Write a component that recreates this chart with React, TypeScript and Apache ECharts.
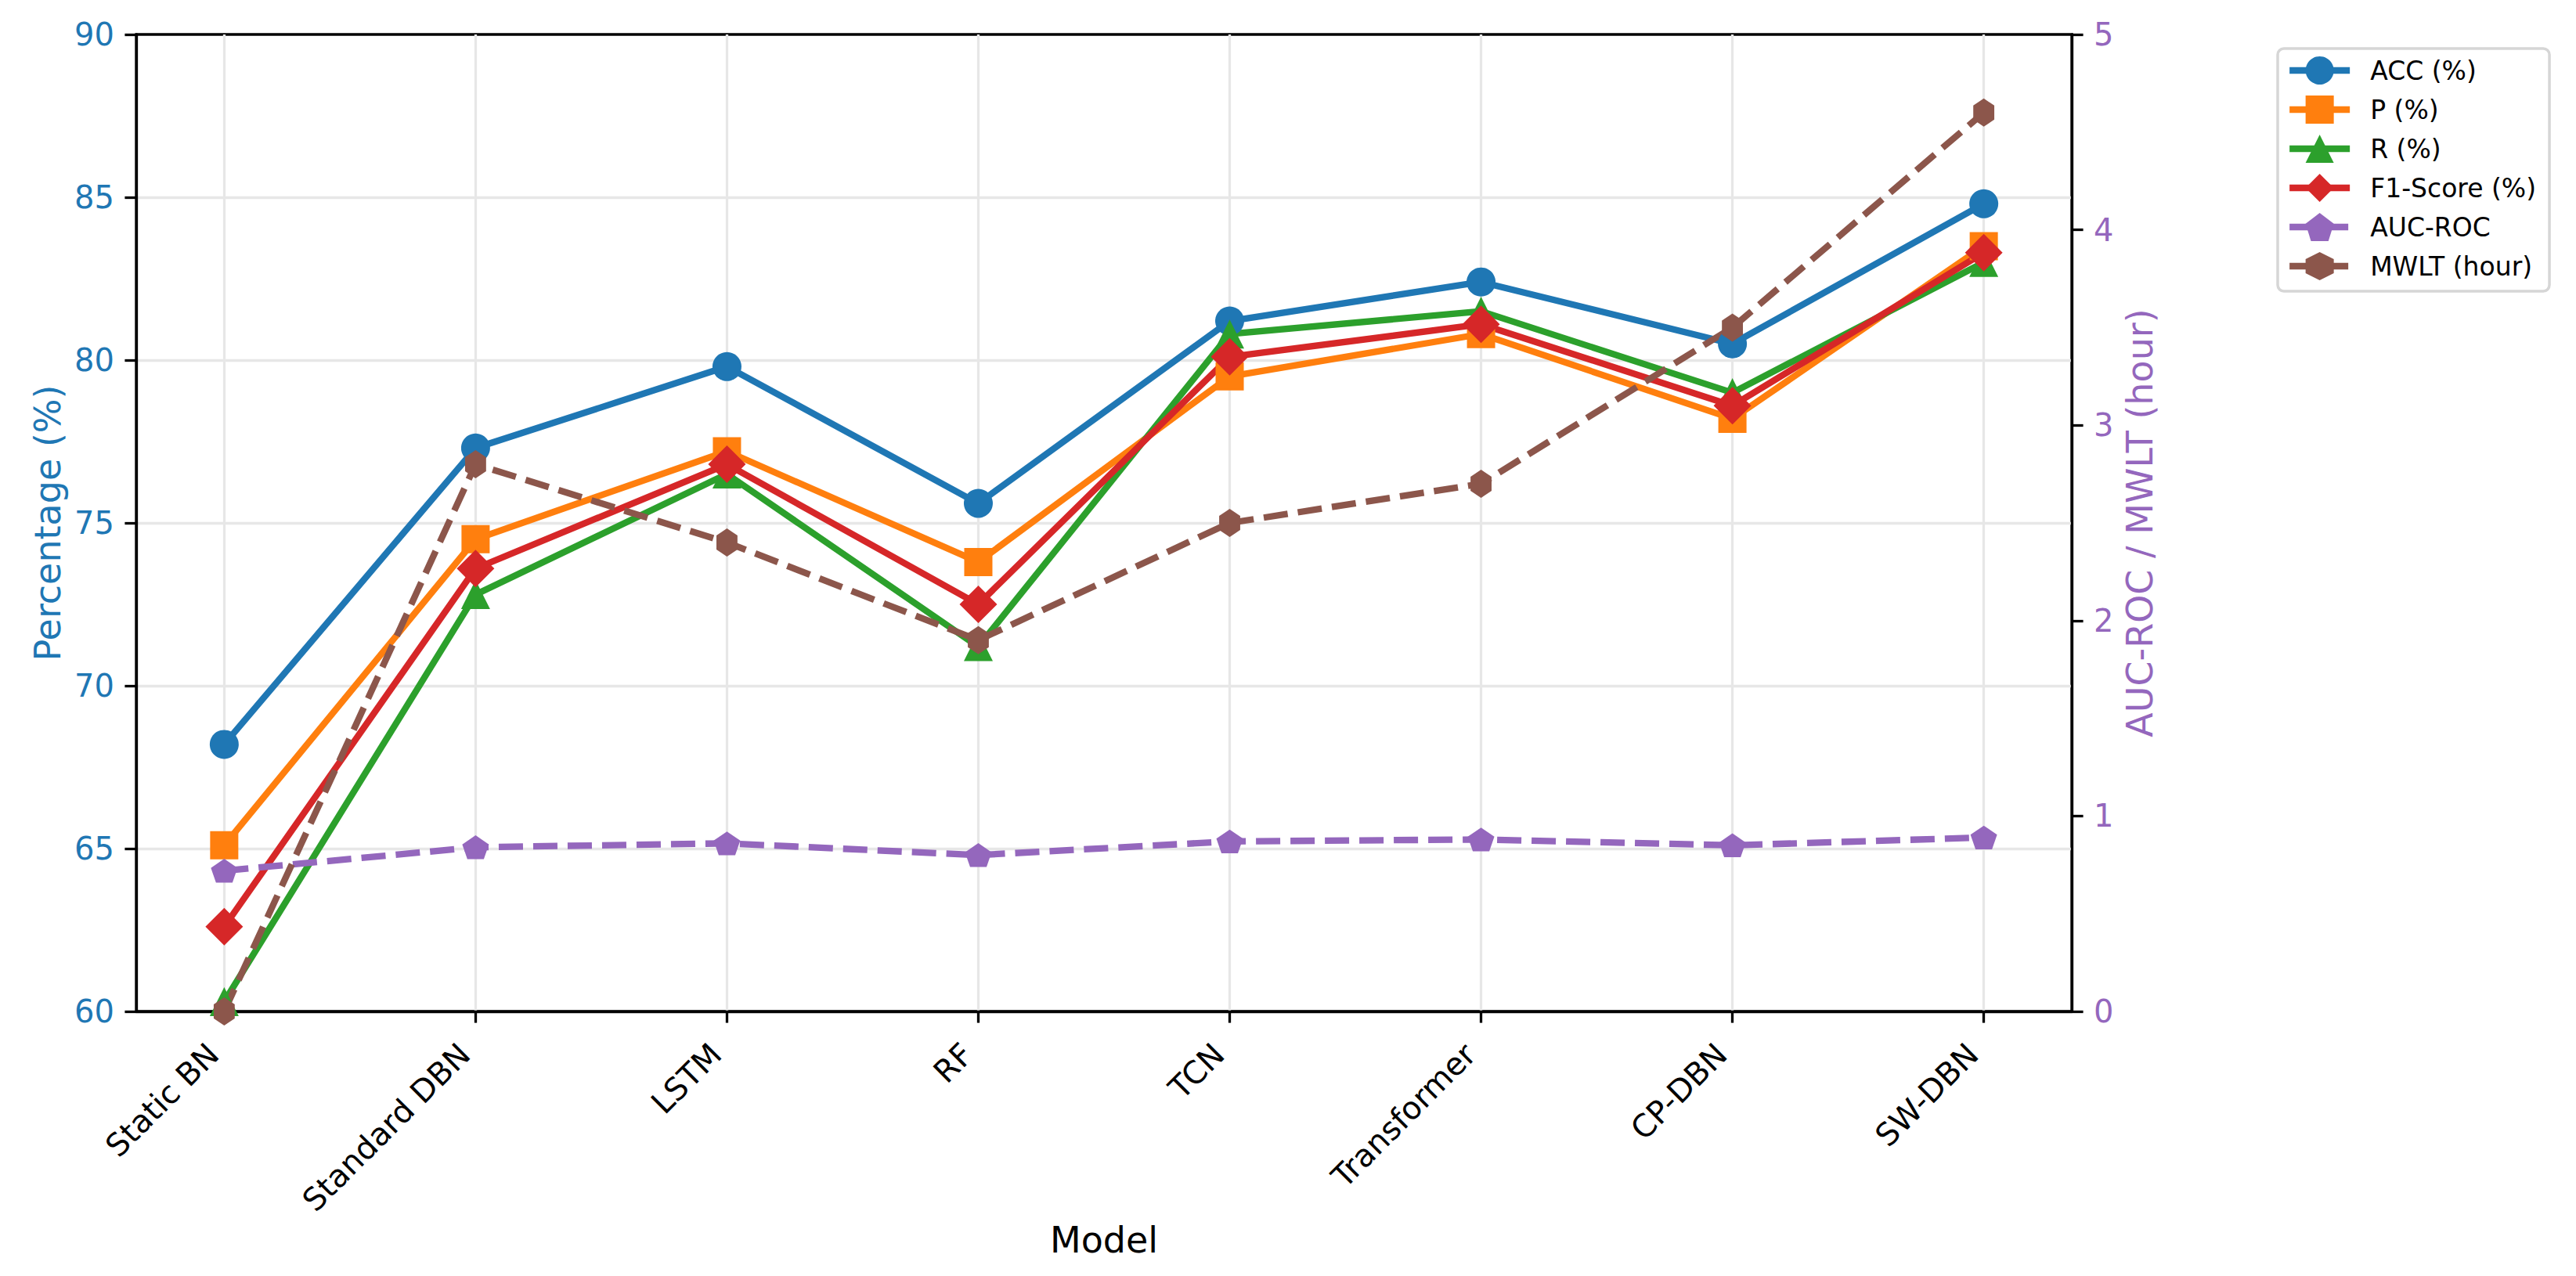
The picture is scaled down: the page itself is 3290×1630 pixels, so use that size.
import React, { useEffect, useRef } from 'react';
import * as echarts from 'echarts';

const FONT = 'DejaVu Sans';

const categories = ['Static BN', 'Standard DBN', 'LSTM', 'RF', 'TCN', 'Transformer', 'CP-DBN', 'SW-DBN'];
const accValues = [68.2, 77.3, 79.8, 75.6, 81.2, 82.4, 80.5, 84.8];
const precisionValues = [65.1, 74.5, 77.2, 73.8, 79.5, 80.8, 78.2, 83.5];
const recallValues = [60.3, 72.8, 76.5, 71.2, 80.8, 81.5, 79.0, 83.0];
const f1Values = [62.6, 73.6, 76.8, 72.5, 80.1, 81.1, 78.6, 83.3];
const aucValues = [0.72, 0.84, 0.86, 0.80, 0.87, 0.88, 0.85, 0.89];
const mwltValues = [0.0, 2.8, 2.4, 1.9, 2.5, 2.7, 3.5, 4.6];

const seriesNames = ['ACC (%)', 'P (%)', 'R (%)', 'F1-Score (%)', 'AUC-ROC', 'MWLT (hour)'];
const colors = ['#1f77b4', '#ff7f0e', '#2ca02c', '#d62728', '#9467bd', '#8c564b'];

const PENTAGON = 'path://M0,-1 L0.951,-0.309 L0.588,0.809 L-0.588,0.809 L-0.951,-0.309 Z';
const HEXAGON = 'path://M0,-1 L0.866,-0.5 L0.866,0.5 L0,1 L-0.866,0.5 L-0.866,-0.5 Z';

const tickPositions = categories.map((_, i) => i);

function makeSeries(
  name: string,
  values: number[],
  color: string,
  symbol: string,
  size: number | number[],
  yAxisIndex: number,
  dashed: boolean
) {
  return {
    type: 'line',
    name,
    yAxisIndex,
    data: values.map((v, i) => [i, v]),
    symbol,
    symbolSize: size,
    symbolKeepAspect: true,
    showSymbol: true,
    lineStyle: {
      color,
      width: 8.3,
      type: dashed ? [31, 13] : 'solid',
      join: 'round',
      cap: 'butt',
    },
    itemStyle: { color, borderWidth: 0 },
    emphasis: { disabled: true },
    clip: true,
  };
}

export default function App() {
  const ref = useRef<HTMLDivElement>(null);

  useEffect(() => {
    if (!ref.current) return;
    const chart = echarts.init(ref.current, null, { renderer: 'svg' });

    const option = {
      animation: false,
      backgroundColor: '#ffffff',
      textStyle: { fontFamily: FONT },
      grid: {
        left: 174,
        right: 644,
        top: 44,
        bottom: 338,
        show: true,
        borderColor: '#000',
        borderWidth: 3.3,
        backgroundColor: 'transparent',
        containLabel: false,
      },
      legend: {
        data: seriesNames,
        orient: 'vertical',
        left: 2909,
        top: 62,
        padding: [10, 17, 14, 11],
        itemWidth: 77,
        itemHeight: 45,
        itemGap: 14,
        backgroundColor: '#ffffff',
        borderColor: '#d6d6d6',
        borderWidth: 3.5,
        borderRadius: 8,
        selectedMode: false,
        lineStyle: { width: 8.3 },
        textStyle: {
          fontFamily: FONT,
          fontSize: 33,
          color: '#000',
          padding: [0, 0, 0, 21],
        },
      },
      xAxis: {
        type: 'value',
        min: -0.35,
        max: 7.35,
        name: 'Model',
        nameLocation: 'middle',
        nameGap: 256,
        nameTextStyle: { fontFamily: FONT, fontSize: 46, color: '#000' },
        axisLine: { show: true, onZero: false, lineStyle: { color: '#000', width: 3.3 } },
        axisTick: {
          show: true,
          length: 14.6,
          lineStyle: { color: '#000', width: 3.3 },
          customValues: tickPositions,
        },
        axisLabel: {
          customValues: tickPositions,
          formatter: (v: number) => categories[Math.round(v)] ?? '',
          rotate: 45,
          align: 'right',
          verticalAlign: 'bottom',
          margin: 62,
          fontFamily: FONT,
          fontSize: 40,
          color: '#000',
        },
        splitLine: { show: true, lineStyle: { color: '#e7e7e7', width: 3.3 } },
      },
      yAxis: [
        {
          type: 'value',
          position: 'left',
          min: 60,
          max: 90,
          interval: 5,
          name: 'Percentage (%)',
          nameLocation: 'middle',
          nameRotate: 90,
          nameGap: 90,
          nameTextStyle: { fontFamily: FONT, fontSize: 46, color: '#1f77b4' },
          axisLine: { show: true, onZero: false, lineStyle: { color: '#000', width: 3.3 } },
          axisTick: { show: true, length: 14.6, lineStyle: { color: '#000', width: 3.3 } },
          axisLabel: { fontFamily: FONT, fontSize: 40, color: '#1f77b4', margin: 28 },
          splitLine: {
            show: true,
            showMinLine: false,
            showMaxLine: false,
            lineStyle: { color: '#e7e7e7', width: 3.3 },
          },
        },
        {
          type: 'value',
          position: 'right',
          min: 0,
          max: 5,
          interval: 1,
          name: 'AUC-ROC / MWLT (hour)',
          nameLocation: 'middle',
          nameRotate: 90,
          nameGap: 62,
          nameTextStyle: { fontFamily: FONT, fontSize: 46, color: '#9467bd' },
          axisLine: { show: true, onZero: false, lineStyle: { color: '#000', width: 3.3 } },
          axisTick: { show: true, length: 14.6, lineStyle: { color: '#000', width: 3.3 } },
          axisLabel: { fontFamily: FONT, fontSize: 40, color: '#9467bd', margin: 28 },
          splitLine: { show: false },
        },
      ],
      series: [
        makeSeries(seriesNames[0], accValues, colors[0], 'circle', 37, 0, false),
        makeSeries(seriesNames[1], precisionValues, colors[1], 'rect', 36, 0, false),
        makeSeries(seriesNames[2], recallValues, colors[2], 'triangle', 37, 0, false),
        makeSeries(seriesNames[3], f1Values, colors[3], 'diamond', 48, 0, false),
        makeSeries(seriesNames[4], aucValues, colors[4], PENTAGON, [34, 32], 1, true),
        makeSeries(seriesNames[5], mwltValues, colors[5], HEXAGON, [31, 36], 1, true),
      ],
    };

    chart.setOption(option as any);
    return () => chart.dispose();
  }, []);

  return (
    <div
      ref={ref}
      style={{ position: 'fixed', left: 0, top: 0, width: 3290, height: 1630, background: '#fff' }}
    />
  );
}
